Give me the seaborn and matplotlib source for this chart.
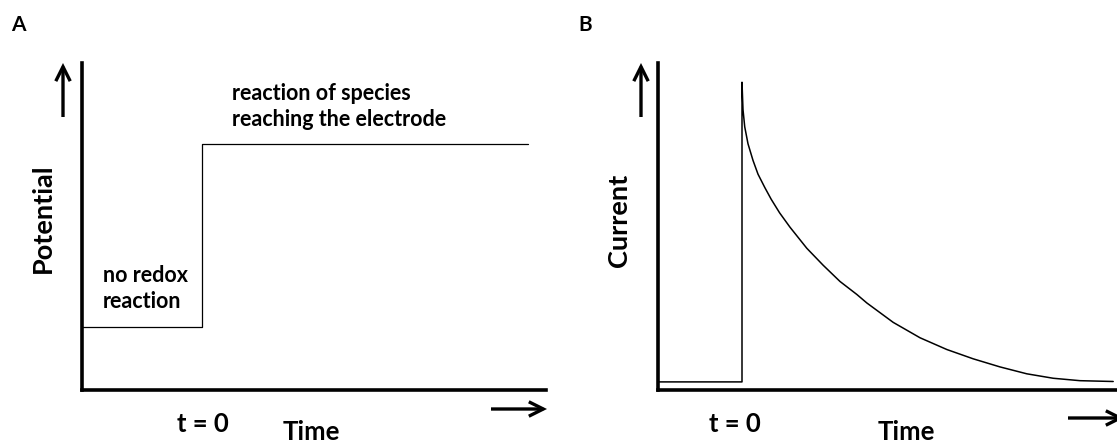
import numpy as np
import pandas as pd
import matplotlib
matplotlib.use("Agg")
import matplotlib.pyplot as plt
import seaborn as sns

# Panel A: potential step (time in arbitrary units, step at t = 0)
step_time = [-3.0, 0.0, 0.0, 8.15]
step_potential = [1.575, 1.575, 6.15, 6.15]

# Panel B: current response
current_time = [-2.1, 0.0, 0.0, 0.025, 0.068, 0.15, 0.275, 0.40, 0.57, 0.73, 0.94,
                1.2, 1.62, 2.03, 2.45, 2.87, 3.12, 3.78, 4.45, 5.12, 5.78, 6.45,
                7.12, 7.78, 8.45, 9.28]
current_value = [0.2, 0.2, 7.6, 6.925, 6.5, 6.08, 5.67, 5.33, 5.0, 4.71, 4.375,
                 4.02, 3.5, 3.08, 2.68, 2.36, 2.15, 1.67, 1.29, 1.0, 0.77, 0.57,
                 0.40, 0.29, 0.23, 0.21]

W, H = 1117, 444

sns.set_style("white")
plt.rcParams['font.family'] = ['Lato', 'DejaVu Sans']
plt.rcParams['font.weight'] = 'bold'
plt.rcParams['text.color'] = 'black'


def fpos(x, y):
    # pixel position (from top-left) to figure fraction
    return x / W, 1 - y / H


def make_axes(fig, left, right, top, bottom):
    l, b = fpos(left, bottom)
    r, t = fpos(right, top)
    ax = fig.add_axes([l, b, r - l, t - b])
    for side in ['top', 'right']:
        ax.spines[side].set_visible(False)
    for side in ['left', 'bottom']:
        ax.spines[side].set_linewidth(2.6)
        ax.spines[side].set_color('black')
        ax.spines[side].set_capstyle('projecting')
    ax.set_yticks([])
    return ax


def arrow(fig, start, end):
    fig.add_artist(matplotlib.patches.FancyArrowPatch(
        fpos(*start), fpos(*end), transform=fig.transFigure,
        arrowstyle='->', lw=2.4, mutation_scale=26, color='black',
        shrinkA=0, shrinkB=0, joinstyle='miter', capstyle='butt'))


def label(fig, x, y, s, size, **kw):
    fig.text(*fpos(x, y), s, fontsize=size, fontweight='bold',
             ha=kw.pop('ha', 'center'), va='center', **kw)


fig = plt.figure(figsize=(W / 100, H / 100), dpi=100)

# ---- Panel A ----
axA = make_axes(fig, 82, 546, 63, 390)
dfA = pd.DataFrame({'time': step_time, 'potential': step_potential})
sns.lineplot(data=dfA, x='time', y='potential', estimator=None, sort=False,
             color='black', lw=0.9, ax=axA)
axA.set_xlim(-3.0, 8.6)
axA.set_ylim(0, 8.175)
axA.set_xticks([0])
axA.set_xticklabels([''])
axA.tick_params(axis='x', direction='in', length=11, width=2, color='black')
axA.set_xlabel('')
axA.set_ylabel('')

label(fig, 18, 25, 'A', 15)
label(fig, 203, 424, 't = 0', 18.5)
label(fig, 311, 432, 'Time', 18.5)
label(fig, 43, 218, 'Potential', 19.5, rotation=90)
label(fig, 232, 93, 'reaction of species', 15.5, ha='left')
label(fig, 232, 119, 'reaching the electrode', 15.5, ha='left')
label(fig, 103, 275, 'no redox', 15.5, ha='left')
label(fig, 103, 301, 'reaction', 15.5, ha='left')
arrow(fig, (63, 117), (63, 63))
arrow(fig, (491, 409), (547, 409))

# ---- Panel B ----
axB = make_axes(fig, 658, 1117, 63, 390)
dfB = pd.DataFrame({'time': current_time, 'current': current_value})
sns.lineplot(data=dfB, x='time', y='current', estimator=None, sort=False,
             color='black', lw=1.1, ax=axB)
axB.set_xlim(-2.1, 9.375)
axB.set_ylim(0, 8.075)
axB.set_xticks([])
axB.set_xlabel('')
axB.set_ylabel('')

label(fig, 585, 25, 'B', 15)
label(fig, 735, 424, 't = 0', 18.5)
label(fig, 906, 432, 'Time', 18.5)
label(fig, 619, 220, 'Current', 19.5, rotation=90)
arrow(fig, (641, 117), (641, 63))
arrow(fig, (1068, 418), (1124, 418))

fig.savefig('out.png', dpi=100)
